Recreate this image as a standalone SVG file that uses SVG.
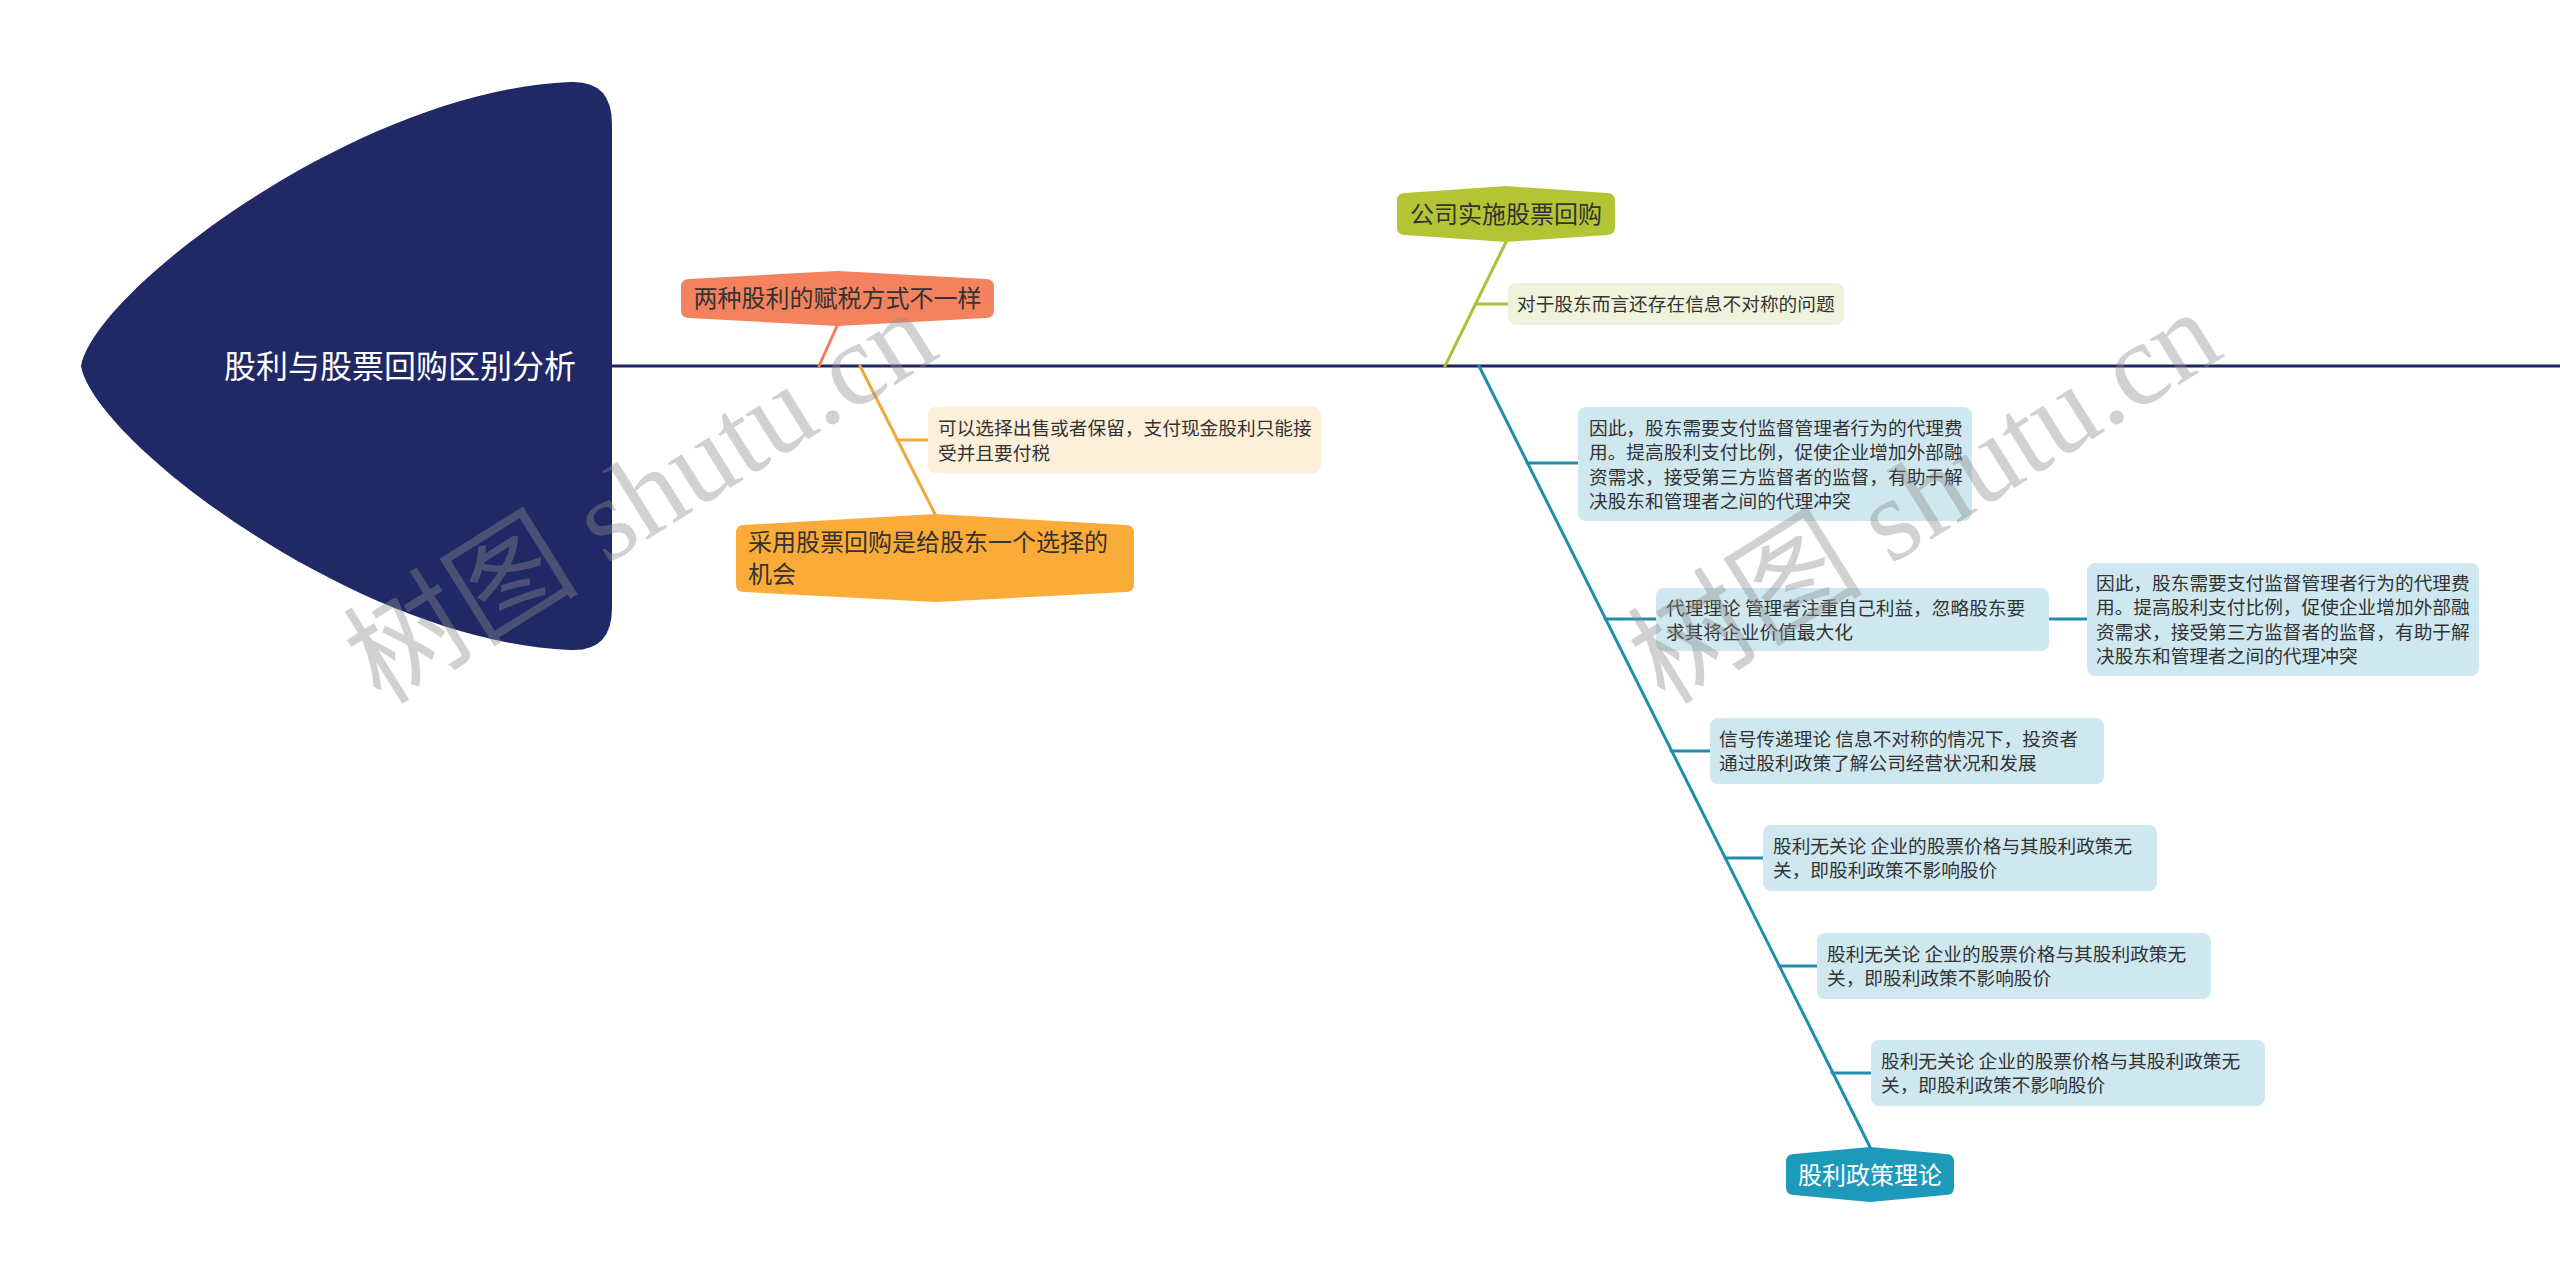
<svg xmlns="http://www.w3.org/2000/svg" width="2560" height="1284" viewBox="0 0 2560 1284">
<style>
text{font-family:"Noto Sans CJK SC","Noto Sans",sans-serif;fill:#333333}
.t1{font-size:24px}
.t2{font-size:18.7px}
.title{font-size:32px;fill:#ffffff}
.wm{font-family:"Liberation Serif","Noto Sans CJK SC",serif;font-size:118px;fill:#8c8c8c;fill-opacity:0.4}
.conn{fill:none;stroke-width:3;stroke-linecap:round}
.blue{fill:#cfe8f0}
</style>
<rect width="2560" height="1284" fill="#ffffff"/>
<g id="connectors">
<line x1="612" y1="366" x2="2560" y2="366" stroke="#1e2660" stroke-width="3"/>
<line class="conn" x1="837.5" y1="325" x2="819" y2="366" stroke="#ef7f5c"/>
<line class="conn" x1="860" y1="366" x2="935" y2="514" stroke="#f3a73c"/>
<line class="conn" x1="897" y1="440" x2="928" y2="440" stroke="#f3a73c"/>
<line class="conn" x1="1506" y1="242" x2="1445" y2="366" stroke="#a9c23c"/>
<line class="conn" x1="1475" y1="304" x2="1508" y2="304" stroke="#a9c23c"/>
<line class="conn" x1="1479" y1="366" x2="1870" y2="1147" stroke="#1f8dab"/>
<line class="conn" x1="1527" y1="463" x2="1578" y2="463" stroke="#1f8dab"/>
<line class="conn" x1="1605" y1="619" x2="1656" y2="619" stroke="#1f8dab"/>
<line class="conn" x1="2049" y1="619" x2="2087" y2="619" stroke="#1f8dab"/>
<line class="conn" x1="1671" y1="751" x2="1710" y2="751" stroke="#1f8dab"/>
<line class="conn" x1="1725" y1="858" x2="1763" y2="858" stroke="#1f8dab"/>
<line class="conn" x1="1779" y1="966" x2="1817" y2="966" stroke="#1f8dab"/>
<line class="conn" x1="1832" y1="1073" x2="1871" y2="1073" stroke="#1f8dab"/>
</g>
<g id="root">
<path d="M81,366 C95,290 360,90 570,82 Q612,80 612,124 L612,608 Q612,652 570,650 C360,642 95,442 81,366 Z" fill="#202866"/>
<text class="title" x="400" y="378" text-anchor="middle">股利与股票回购区别分析</text>
</g>
<g id="n-tax">
<path d="M681,287 Q681,279 689,279 L837.5,271 L986,279 Q994,279 994,287 L994,310 Q994,318 986,318 L837.5,326 L689,318 Q681,318 681,310 Z" fill="#f4825e"/>
<text class="t1" x="837.5" y="307" text-anchor="middle">两种股利的赋税方式不一样</text>
</g>
<g id="n-buyback-choice">
<path d="M736,533 Q736,525 744,525 L935,514 L1126,525 Q1134,525 1134,533 L1134,584 Q1134,592 1126,592 L935,602 L744,592 Q736,592 736,584 Z" fill="#fbab37"/>
<text class="t1" x="748" y="551">采用股票回购是给股东一个选择的</text>
<text class="t1" x="748" y="583">机会</text>
</g>
<g id="n-choice-detail">
<rect x="928" y="407" width="393" height="66" rx="8" fill="#fdf0da"/>
<text class="t2" x="938" y="435">可以选择出售或者保留，支付现金股利只能接</text>
<text class="t2" x="938" y="460">受并且要付税</text>
</g>
<g id="n-company">
<path d="M1397,201 Q1397,193 1405,193 L1506,186 L1607,193 Q1615,193 1615,201 L1615,227 Q1615,235 1607,235 L1506,242 L1405,235 Q1397,235 1397,227 Z" fill="#b3c534"/>
<text class="t1" x="1506" y="223" text-anchor="middle">公司实施股票回购</text>
</g>
<g id="n-info">
<rect x="1508" y="283" width="336" height="42" rx="8" fill="#eff3dc"/>
<text class="t2" x="1517" y="311">对于股东而言还存在信息不对称的问题</text>
</g>
<g id="n-theory">
<path d="M1786,1162 Q1786,1154 1794,1154 L1870,1147 L1946,1154 Q1954,1154 1954,1162 L1954,1187 Q1954,1195 1946,1195 L1870,1202 L1794,1195 Q1786,1195 1786,1187 Z" fill="#1d9aba"/>
<text class="t1" x="1870" y="1184" text-anchor="middle" style="fill:#ffffff">股利政策理论</text>
</g>
<g id="n-a">
<rect class="blue" x="1578" y="407" width="394" height="114" rx="8"/>
<text class="t2" x="1589" y="435">因此，股东需要支付监督管理者行为的代理费</text>
<text class="t2" x="1589" y="459">用。提高股利支付比例，促使企业增加外部融</text>
<text class="t2" x="1589" y="484">资需求，接受第三方监督者的监督，有助于解</text>
<text class="t2" x="1589" y="508">决股东和管理者之间的代理冲突</text>
</g>
<g id="n-b">
<rect class="blue" x="1656" y="588" width="393" height="63" rx="8"/>
<text class="t2" x="1666" y="615">代理理论 管理者注重自己利益，忽略股东要</text>
<text class="t2" x="1666" y="639">求其将企业价值最大化</text>
</g>
<g id="n-c">
<rect class="blue" x="2087" y="563" width="392" height="113" rx="8"/>
<text class="t2" x="2096" y="590">因此，股东需要支付监督管理者行为的代理费</text>
<text class="t2" x="2096" y="614">用。提高股利支付比例，促使企业增加外部融</text>
<text class="t2" x="2096" y="639">资需求，接受第三方监督者的监督，有助于解</text>
<text class="t2" x="2096" y="663">决股东和管理者之间的代理冲突</text>
</g>
<g id="n-d">
<rect class="blue" x="1710" y="718" width="394" height="66" rx="8"/>
<text class="t2" x="1719" y="746">信号传递理论 信息不对称的情况下，投资者</text>
<text class="t2" x="1719" y="770">通过股利政策了解公司经营状况和发展</text>
</g>
<g id="n-e">
<rect class="blue" x="1763" y="825" width="394" height="66" rx="8"/>
<text class="t2" x="1773" y="853">股利无关论 企业的股票价格与其股利政策无</text>
<text class="t2" x="1773" y="877">关，即股利政策不影响股价</text>
</g>
<g id="n-f">
<rect class="blue" x="1817" y="933" width="394" height="66" rx="8"/>
<text class="t2" x="1827" y="961">股利无关论 企业的股票价格与其股利政策无</text>
<text class="t2" x="1827" y="985">关，即股利政策不影响股价</text>
</g>
<g id="n-g">
<rect class="blue" x="1871" y="1040" width="394" height="66" rx="8"/>
<text class="t2" x="1881" y="1068">股利无关论 企业的股票价格与其股利政策无</text>
<text class="t2" x="1881" y="1092">关，即股利政策不影响股价</text>
</g>
<g id="watermark">
<text class="wm" transform="translate(381,706) rotate(-32)">树图 shutu.cn</text>
<text class="wm" transform="translate(1665,706) rotate(-32)">树图 shutu.cn</text>
</g>
</svg>
